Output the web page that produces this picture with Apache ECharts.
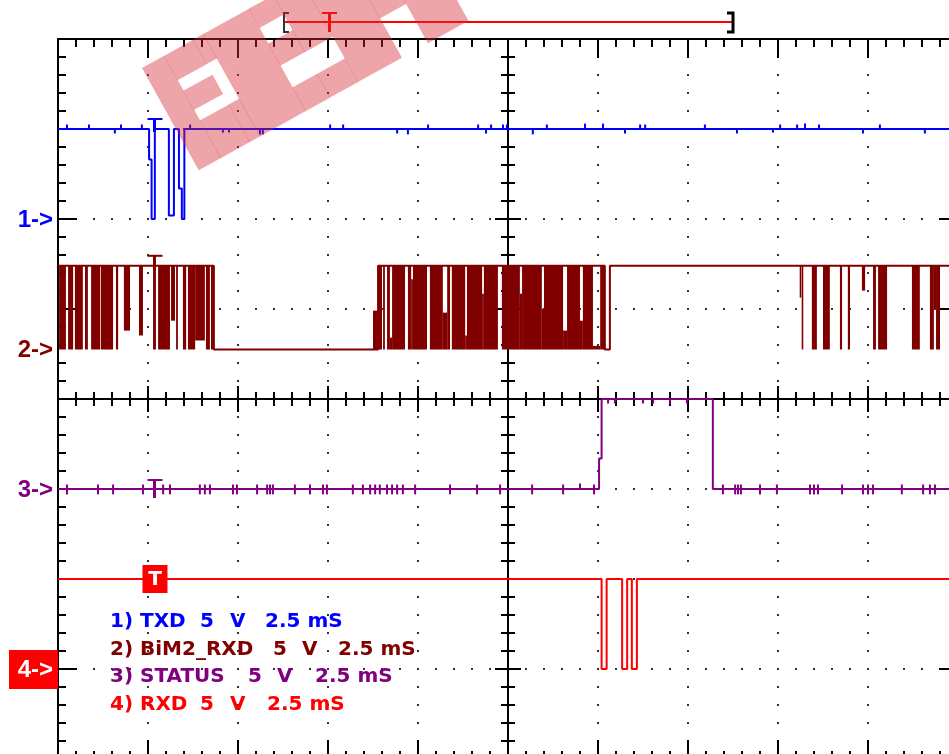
<!DOCTYPE html>
<html><head><meta charset="utf-8">
<script src="https://cdn.jsdelivr.net/npm/echarts@6/dist/echarts.min.js"></script>
<style>html,body{margin:0;padding:0;background:#fff}#c{width:949px;height:754px}</style>
</head><body><div id="c"></div>
<script>
// ---------------- DATA ----------------
const timeMaxMs = 25;          // 10 divisions x 2.5 ms
const msPerDiv = 2.5;
const screenDivs = 8;
const voltsPerDiv = 5;
const channelNames = ['1) TXD', '2) BiM2_RXD', '3) STATUS', '4) RXD'];
const channelVolts = ['5', '5', '5', '5'];
const channelVoltUnit = ['V', 'V', 'V', 'V'];
const channelTimebase = ['2.5 mS', '2.5 mS', '2.5 mS', '2.5 mS'];
const channelMarkers = ['1->', '2->', '3->', '4->'];
// channel ground positions (in screen divisions from bottom)
const groundTXD = 6.0, groundBIM = 4.55, groundSTATUS = 3.0, groundRXD = 1.0;
const triggerMs = 2.68;

// TXD: [time ms, level V] step changes
const txdEdges = [[0,5],[2.53,3.3],[2.60,0],[2.69,5],[3.08,0.2],[3.22,5],[3.36,1.7],[3.44,0],[3.51,5]];
// TXD small glitches on the high level: [time ms, delta V]
const txdGlitches = [[0.25,0.25],[0.86,0.25],[1.58,-0.25],[1.75,0.25],[2.33,0.25],[3.67,0.25],[4.58,-0.2],[4.75,-0.2],[5.61,-0.3],[5.69,-0.3],[7.56,0.25],[7.92,0.25],[9.42,-0.25],[9.72,-0.3],[10.28,0.25],[11.67,0.25],[11.89,-0.25],[12.03,0.25],[12.36,0.25],[12.47,0.25],[13.19,-0.3],[13.58,0.25],[14.64,0.3],[15.14,0.3],[15.75,-0.25],[16.17,0.25],[16.31,0.25],[17.97,0.25],[18.86,-0.25],[19.86,-0.2],[20.06,0.25],[20.53,0.25],[20.75,0.3],[21.14,0.25],[22.36,-0.25],[22.83,0.25],[24.08,-0.25]];

// BiM2_RXD idle envelope: [time ms, level V]
const bimEdges = [[0,4.65],[4.33,0],[8.89,4.65],[15.19,0],[15.33,4.65]];
// BiM2_RXD dense toggling bursts: [start ms, end ms, low V, high V]
const bimBursts = [
 [0.03,0.22,0,4.65],[0.28,0.42,0,4.65],[0.47,0.69,0,4.65],[0.75,0.83,0,4.65],[0.92,1.17,0,4.65],
 [1.19,1.53,0,4.65],[1.61,1.67,0,4.65],[1.83,2.0,1.05,4.65],[2.25,2.36,0.78,4.65],[2.64,2.72,0,4.65],
 [2.78,3.11,0,4.65],[3.14,3.25,1.6,4.65],[3.28,3.33,0,4.65],[3.47,3.56,0,4.65],[3.61,3.81,0,4.65],
 [3.81,4.08,0.5,4.65],[4.11,4.22,0,4.65],[4.25,4.33,0,4.65],
 [8.75,8.89,0,2.16],[8.89,9.0,0,4.65],[9.03,9.08,0,4.65],[9.14,9.22,0,4.65],[9.22,9.28,0,0.66],
 [9.28,9.64,0,4.65],[9.72,9.81,0,4.65],[9.81,9.86,0,3.9],[9.86,10.25,0,4.65],[10.33,10.69,0,4.65],
 [10.69,10.81,0,2.05],[10.81,10.89,0,4.65],[10.94,11.31,0,4.65],[11.31,11.36,0,0.78],[11.36,11.78,0,4.65],
 [11.78,11.83,0,3.1],[11.83,12.22,0,4.65],[12.33,12.83,0,4.65],[12.83,12.89,0,3.1],[12.89,13.44,0,4.65],
 [13.44,13.5,0,2.27],[13.5,14.03,0,4.65],[14.03,14.14,0,1.05],[14.14,14.5,0,4.65],[14.5,14.58,0,1.6],
 [14.58,14.86,0,4.65],[14.86,15.06,0,0.2],[15.06,15.19,0,4.65],
 [20.61,20.64,2.88,4.65],[20.67,20.69,0,4.65],[20.94,21.08,0,4.65],[21.25,21.44,0,4.65],[21.72,21.78,0,4.65],
 [21.94,22.0,0,4.65],[22.33,22.42,3.27,4.65],[22.64,22.72,0,4.65],[22.78,23.03,0,4.65],[23.72,23.94,0,4.65],
 [24.22,24.33,0,4.65],[24.33,24.39,2.2,4.65],[24.39,24.5,0,4.65]
];

// STATUS: [time ms, level V]
const statusEdges = [[0,0],[15.03,1.7],[15.10,5],[18.19,0]];
// STATUS noise ticks on low level: [time ms, low dV, high dV]
const statusLowTicks = [[0.25,-0.3,0.25],[1.11,-0.3,0.25],[1.53,-0.3,0.25],[2.36,-0.3,0.25],[2.92,-0.3,0.25],[3.11,-0.3,0.25],[3.94,-0.3,0.25],[4.08,-0.3,0.25],[4.22,-0.3,0.25],[4.86,-0.3,0.25],[4.97,-0.3,0.25],[5.53,-0.3,0.25],[5.81,-0.3,0.25],[5.89,-0.3,0.25],[5.97,-0.3,0.25],[6.58,-0.3,0.25],[7.0,-0.3,0.25],[7.36,-0.3,0.25],[7.47,-0.3,0.25],[8.19,-0.3,0.25],[8.47,-0.3,0.25],[8.67,-0.3,0.25],[8.81,-0.3,0.25],[8.94,-0.3,0.25],[9.14,-0.3,0.25],[9.28,-0.3,0.25],[9.42,-0.3,0.25],[9.58,-0.3,0.25],[9.92,-0.3,0.25],[10.89,-0.3,0.25],[11.64,-0.3,0.25],[12.28,-0.3,0.25],[13.17,-0.3,0.25],[14.03,-0.3,0.25],[14.5,0,0.3],[14.89,-0.3,0.25],[18.47,-0.3,0.25],[18.81,-0.3,0.25],[18.89,-0.3,0.25],[18.97,-0.3,0.25],[19.5,-0.3,0.25],[19.97,-0.3,0.25],[20.89,-0.3,0.25],[21.0,-0.3,0.25],[21.11,-0.3,0.25],[21.78,-0.3,0.25],[22.36,-0.3,0.25],[22.5,-0.3,0.25],[22.64,-0.3,0.25],[23.44,-0.3,0.25],[24.03,-0.3,0.25],[24.22,-0.3,0.25],[24.36,-0.3,0.25]];
// STATUS dips on high level: [time ms, delta V]
const statusHighDips = [[15.28,-0.25],[15.47,-0.25],[16.25,-0.25],[16.53,-0.25],[17.0,-0.25],[17.47,-0.25]];

// RXD: [time ms, level V]
const rxdEdges = [[0,5],[15.10,0],[15.24,5],[15.67,0],[15.81,5],[15.94,0],[16.08,5]];

// ---------------- STYLE ----------------
const colTXD = '#0000ff', colBIM = '#800000', colSTATUS = '#800080', colRXD = '#ff0000';
const channelColors = [colTXD, colBIM, colSTATUS, colRXD];

function toDiv(ground, v) { return ground + v / voltsPerDiv; }
function stepLine(edges, ground) {
  const pts = [];
  edges.forEach(([t, v], i) => {
    if (i > 0) pts.push([t, toDiv(ground, edges[i - 1][1])]);
    pts.push([t, toDiv(ground, v)]);
  });
  pts.push([timeMaxMs, toDiv(ground, edges[edges.length - 1][1])]);
  return pts;
}
function blockRender(color, ground, minW) {
  return function (params, api) {
    const t0 = api.value(0), t1 = api.value(1), v0 = api.value(2), v1 = api.value(3);
    const a = api.coord([t0, toDiv(ground, Math.max(v0, v1))]);
    const b = api.coord([t1, toDiv(ground, Math.min(v0, v1))]);
    let x = a[0], w = b[0] - a[0];
    if (w < minW) { x -= (minW - w) / 2; w = minW; }
    return { type: 'rect', shape: { x: x, y: a[1], width: w, height: b[1] - a[1] }, style: { fill: color } };
  };
}

const txdTickData = txdGlitches.map(([t, dv]) => [t, t, 5, 5 + dv]);
const statusTickData = statusLowTicks.map(([t, lo, hi]) => [t, t, lo, hi])
  .concat(statusHighDips.map(([t, dv]) => [t, t, 5 + dv, 5]));

const chart = echarts.init(document.getElementById('c'), null, { renderer: 'canvas' });

function xAx(position, offset, inside, major, minor, split) {
  return {
    type: 'value', min: 0, max: timeMaxMs, interval: msPerDiv, position: position, offset: offset,
    axisLine: { onZero: false, lineStyle: { color: '#000', width: 2 } },
    axisTick: { inside: inside, length: major, lineStyle: { color: '#000', width: 2 } },
    minorTick: { show: true, splitNumber: 5, length: minor, lineStyle: { color: '#000', width: 2 } },
    axisLabel: { show: false },
    splitLine: { show: split, lineStyle: { color: '#333', width: 2, type: [2, 16], dashOffset: 1 } },
    minorSplitLine: { show: false }
  };
}
function yAx(position, offset, inside, major, minor, split) {
  return {
    type: 'value', min: 0, max: screenDivs, interval: 1, position: position, offset: offset,
    axisLine: { onZero: false, lineStyle: { color: '#000', width: 2 } },
    axisTick: { inside: inside, length: major, lineStyle: { color: '#000', width: 2 } },
    minorTick: { show: true, splitNumber: 5, length: minor, lineStyle: { color: '#000', width: 2 } },
    axisLabel: { show: false },
    splitLine: { show: split, lineStyle: { color: '#333', width: 2, type: [2, 16], dashOffset: 1 } },
    minorSplitLine: { show: false }
  };
}

chart.setOption({
  animation: false,
  backgroundColor: '#fff',
  grid: { left: 58, top: 39, width: 900, height: 720, containLabel: false, outerBoundsMode: 'none' },
  xAxis: [
    xAx('top', 0, true, 19, 8, true),
    xAx('bottom', 0, true, 19, 8, false),
    xAx('bottom', -360, false, 13, 7, false),
    xAx('top', -360, false, 13, 7, false)
  ],
  yAxis: [
    yAx('left', 0, true, 19, 8, true),
    yAx('right', 0, true, 19, 8, false),
    yAx('left', -450, false, 13, 7, false),
    yAx('right', -450, false, 13, 7, false)
  ],
  series: [
    { name: 'TXD', type: 'line', data: stepLine(txdEdges, groundTXD), showSymbol: false, symbol: 'none',
      lineStyle: { color: colTXD, width: 2 }, z: 5 },
    { name: 'TXD glitches', type: 'custom', data: txdTickData, renderItem: blockRender(colTXD, groundTXD, 2), z: 5 },
    { name: 'BiM2_RXD', type: 'line', data: stepLine(bimEdges, groundBIM), showSymbol: false, symbol: 'none',
      lineStyle: { color: colBIM, width: 2 }, z: 4 },
    { name: 'BiM2_RXD bursts', type: 'custom', data: bimBursts, renderItem: blockRender(colBIM, groundBIM, 1.6), z: 4 },
    { name: 'STATUS', type: 'line', data: stepLine(statusEdges, groundSTATUS), showSymbol: false, symbol: 'none',
      lineStyle: { color: colSTATUS, width: 2 }, z: 4 },
    { name: 'STATUS noise', type: 'custom', data: statusTickData, renderItem: blockRender(colSTATUS, groundSTATUS, 2), z: 4 },
    { name: 'RXD', type: 'line', data: stepLine(rxdEdges, groundRXD), showSymbol: false, symbol: 'none',
      lineStyle: { color: colRXD, width: 2 }, z: 4 }
  ]
});

// ---------------- annotations ----------------
const P = (t, y) => chart.convertToPixel({ xAxisIndex: 0, yAxisIndex: 0 }, [t, y]);
const grounds = [groundTXD, groundBIM, groundSTATUS, groundRXD];
const g = [];
const labelFont = 'bold 20px "DejaVu Sans"';
const markerFont = 'bold 24px "Liberation Sans"';

// channel ground markers
grounds.forEach((gd, i) => {
  const p = P(0, gd);
  if (i === 3) {
    g.push({ type: 'rect', shape: { x: 9, y: p[1] - 19, width: 49, height: 39 }, style: { fill: colRXD }, z: 20 });
    g.push({ type: 'text', x: 53, y: p[1] + 1, style: { text: channelMarkers[i], font: markerFont, fill: '#fff', textAlign: 'right', textVerticalAlign: 'middle' }, z: 21 });
  } else {
    g.push({ type: 'text', x: 53, y: p[1] + 1, style: { text: channelMarkers[i], font: markerFont, fill: channelColors[i], textAlign: 'right', textVerticalAlign: 'middle' }, z: 21 });
  }
});

// trigger markers on each channel
[[groundTXD, 5, colTXD, -10, 3], [groundBIM, 4.65, colBIM, -10, 4], [groundSTATUS, 0, colSTATUS, -9, 9]].forEach(([gd, v, c, top, bot]) => {
  const p = P(triggerMs, toDiv(gd, v));
  g.push({ type: 'line', shape: { x1: p[0] - 7, y1: p[1] + top, x2: p[0] + 8, y2: p[1] + top }, style: { stroke: c, lineWidth: 2 }, z: 22 });
  g.push({ type: 'line', shape: { x1: p[0], y1: p[1] + top, x2: p[0], y2: p[1] + bot }, style: { stroke: c, lineWidth: 3 }, z: 22 });
});
(function () {
  const p = P(triggerMs, toDiv(groundRXD, 5));
  g.push({ type: 'rect', shape: { x: p[0] - 12, y: p[1] - 14, width: 25, height: 28 }, style: { fill: colRXD }, z: 22 });
  g.push({ type: 'text', x: p[0] + 0.5, y: p[1] + 1, style: { text: 'T', font: 'bold 20px "DejaVu Sans"', fill: '#fff', textAlign: 'center', textVerticalAlign: 'middle' }, z: 23 });
})();

// legend text block
const legendRows = [622, 650, 677, 705];
const legendX = [[110, 200, 230, 265], [110, 273, 302, 338], [110, 248, 277, 315], [110, 200, 230, 267]];
channelNames.forEach((nm, i) => {
  const parts = [nm, channelVolts[i], channelVoltUnit[i], channelTimebase[i]];
  parts.forEach((s, k) => {
    g.push({ type: 'text', x: legendX[i][k], y: legendRows[i], style: { text: s, font: labelFont, fill: channelColors[i], textVerticalAlign: 'middle' }, z: 21 });
  });
});

// memory position bar at top
g.push({ type: 'line', shape: { x1: 284, y1: 22, x2: 733, y2: 22 }, style: { stroke: '#ff0000', lineWidth: 2 }, z: 30 });
g.push({ type: 'polyline', shape: { points: [[289, 13], [284, 13], [284, 32], [289, 32]] }, style: { stroke: '#333', lineWidth: 2, fill: null }, z: 30 });
g.push({ type: 'polyline', shape: { points: [[727, 13], [733, 13], [733, 32], [727, 32]] }, style: { stroke: '#000', lineWidth: 3, fill: null }, z: 30 });
g.push({ type: 'line', shape: { x1: 322, y1: 13, x2: 337, y2: 13 }, style: { stroke: '#ff0000', lineWidth: 2 }, z: 30 });
g.push({ type: 'line', shape: { x1: 329.5, y1: 13, x2: 329.5, y2: 32 }, style: { stroke: '#ff0000', lineWidth: 3 }, z: 30 });

// watermark (rotated pink band with white letter holes)
(function () {
  const L = 308, W = 117;
  const holes = [[25, 70, 28, 40], [58, 70, 40, 74], [25, 70, 62, 74], [122, 150, 22, 40], [122, 182, 65, 90], [232, 262, 72, 117]];
  const us = [0, L];
  holes.forEach(h => { us.push(h[0], h[1]); });
  const su = Array.from(new Set(us)).sort((a, b) => a - b);
  const kids = [];
  for (let i = 0; i < su.length - 1; i++) {
    const u0 = su[i], u1 = su[i + 1], mid = (u0 + u1) / 2;
    const hs = holes.filter(h => h[0] <= mid && mid <= h[1]).sort((a, b) => a[2] - b[2]);
    let cur = 0;
    hs.forEach(h => { if (h[2] > cur) kids.push([u0, u1, cur, h[2]]); cur = Math.max(cur, h[3]); });
    if (cur < W) kids.push([u0, u1, cur, W]);
  }
  g.push({
    type: 'group', x: 142, y: 68, rotation: 29 * Math.PI / 180, z: 100,
    children: kids.map(k => ({ type: 'rect', shape: { x: k[0], y: k[2], width: k[1] - k[0] + 0.4, height: k[3] - k[2] }, style: { fill: 'rgba(214,40,50,0.42)' }, z: 100 }))
  });
})();

chart.setOption({ graphic: { elements: g } });
</script>
</body></html>
